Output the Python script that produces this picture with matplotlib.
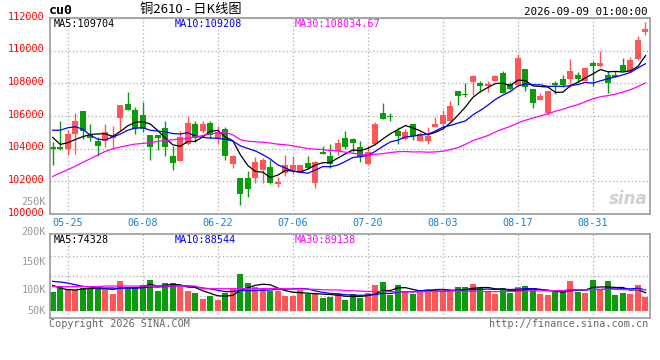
import numpy as np
import pandas as pd
import matplotlib
matplotlib.use("Agg")
import matplotlib.pyplot as plt
from matplotlib.transforms import ScaledTranslation

# 铜2610 日K，数值是从图上读出来的估计值
dates = pd.bdate_range("2026-05-21", "2026-09-09")

opens = [104100, 104100, 103990, 104870, 106300, 104810, 104500, 104460, 104630, 105870,
         106720, 106340, 106090, 104830, 104830, 105260, 103550, 103240, 104260, 105500,
         105110, 105560, 104670, 105200, 103080, 102200, 102180, 102200, 102710, 102870,
         101820, 102510, 102670, 102570, 103120, 101900, 103790, 103530, 103830, 104650,
         104600, 104100, 103080, 104260, 106170, 105990, 105110, 104610, 105480, 104500,
         104460, 105320, 105480, 105680, 107520, 107370, 108110, 108010, 107840, 108170,
         108620, 107940, 107900, 108860, 107640, 107010, 106170, 108000, 108270, 108270,
         108490, 108170, 109270, 109060, 108510, 108510, 109100, 108740, 109470, 111140]
closes = [103990, 103970, 104910, 105680, 105110, 104670, 104140, 104990, 104810, 106660,
          106380, 105220, 105180, 104120, 104630, 104120, 103140, 104710, 105600, 104670,
          105480, 104850, 104990, 103570, 103550, 101200, 101550, 103180, 103320, 101920,
          101940, 102980, 103000, 103000, 102830, 103180, 103690, 103080, 104340, 104120,
          104360, 103490, 103790, 105520, 105830, 105930, 104750, 105050, 104790, 104910,
          104750, 105500, 106090, 106640, 107250, 107270, 108450, 107840, 107940, 108430,
          107390, 107680, 109550, 107800, 106780, 107210, 107520, 107900, 107900, 108760,
          108250, 108920, 109060, 109250, 108050, 108370, 108740, 109430, 110630, 111300]
highs = [104400, 105680, 105150, 106170, 106300, 105480, 104710, 105480, 105400, 106700,
         107460, 106540, 106840, 104830, 104830, 105680, 104140, 105110, 105970, 105720,
         105720, 105720, 105360, 105320, 103590, 102200, 102630, 103490, 103440, 103320,
         102260, 103590, 103530, 103020, 103530, 103220, 104140, 104300, 104580, 105110,
         104650, 104460, 104140, 105620, 106780, 106190, 105320, 105220, 105520, 105010,
         105320, 105930, 106340, 106910, 107560, 108050, 108530, 108130, 108170, 108530,
         108780, 108070, 109800, 108860, 107640, 107390, 107560, 108170, 108530, 109490,
         108720, 108980, 109390, 110000, 108780, 108780, 109550, 109590, 110900, 111730]
lows = [102980, 103930, 103610, 103670, 104580, 104460, 103530, 104100, 103990, 105110,
        106380, 104910, 105010, 103320, 103890, 103570, 102670, 103240, 104200, 104400,
        104950, 104670, 104300, 103320, 102830, 100530, 101040, 101920, 101900, 101860,
        101650, 102300, 102470, 102510, 102770, 101610, 103690, 102830, 103590, 103990,
        103790, 103180, 102980, 104200, 105830, 105720, 104300, 104540, 104540, 104460,
        104300, 105320, 105220, 105680, 106700, 107150, 107310, 107460, 107460, 108130,
        107390, 107600, 107760, 107560, 106500, 107010, 106090, 107350, 107760, 107760,
        108070, 108130, 107860, 108980, 107390, 108370, 108740, 108680, 109430, 110980]
volumes = [78400, 102200, 91000, 88200, 95200, 91000, 98000, 92400, 70000, 124600,
           95200, 98000, 107800, 128800, 84000, 116200, 116200, 98000, 81200, 74200,
           49000, 63000, 44800, 74200, 91000, 154000, 116200, 98000, 95200, 81200,
           84000, 63000, 63000, 88200, 68600, 74200, 53200, 56000, 72800, 46200,
           70000, 53200, 74200, 107800, 120400, 67200, 107800, 81200, 70000, 88200,
           85400, 85400, 81200, 81200, 98000, 98000, 112000, 95200, 84000, 70000,
           95200, 74200, 98000, 102200, 95200, 70000, 64400, 77000, 81200, 126000,
           78400, 74200, 128800, 91000, 126000, 67200, 74200, 70000, 107800, 56000]

# 图最左边几根的均线要用到图外的K线，这几段直接读图
ma5_head = [104690, 104260, 104360, 104560]
ma10_head = [105130, 105130, 105280, 105340, 105200, 104830, 104580, 104540, 104710]
ma30_head = [102300, 102510, 102710, 102930, 103160, 103380, 103610, 103830, 103990, 104100,
             104200, 104280, 104320, 104380, 104440, 104500, 104550, 104580, 104630, 104710,
             104810, 104910, 104970, 104990, 104850, 104550, 104460, 104420, 104400]
vma5_head = [106400, 95200, 88200, 86800]
vma10_head = [123200, 120400, 116200, 109200, 102200, 99400, 95200, 95200, 95200]
vma30_head = [100800] * 7 + [103600] * 13 + [92400] * 9

date_ticks = ["05-25", "06-08", "06-22", "07-06", "07-20", "08-03", "08-17", "08-31"]
price_ticks = [100000, 102000, 104000, 106000, 108000, 110000, 112000]
vol_labels = ["250K", "200K", "150K", "100K", "50K"]
vol_label_y = [202, 232, 262, 290, 311]   # 像素位置，新浪原图的刻度就是这么摆的

RED = "#ff5757"
GREEN = "#0a9c0a"
GRID = "#aaaaaa"
EDGE = "#999999"

plt.rcParams["font.family"] = ["DejaVu Sans Mono", "Noto Sans CJK SC"]
plt.rcParams["font.size"] = 7.3


def moving_avg(values, n, head):
    ma = pd.Series(values, dtype=float).rolling(n).mean().to_numpy()
    ma[:len(head)] = head
    return ma


def fx(px):
    return px / 660


def fy(py):
    return 1 - py / 360


x = np.arange(len(closes))
o = np.array(opens)
c = np.array(closes)
colors = np.where(c >= o, RED, GREEN)
tick_idx = [list(dates.strftime("%m-%d")).index(d) for d in date_ticks]

fig = plt.figure(figsize=(6.6, 3.6), dpi=100)
ax = fig.add_axes([fx(50), fy(214), 600 / 660, 196 / 360])
axv = fig.add_axes([fx(50), fy(318), 600 / 660, 84 / 360])

# K线
ax.vlines(x, lows, highs, colors=colors, lw=1, zorder=2)
ax.bar(x, np.maximum(np.abs(c - o), 45), 0.8, bottom=np.minimum(o, c),
       color=colors, linewidth=0, zorder=2)
ax.plot(x, moving_avg(closes, 5, ma5_head), color="black", lw=0.9, zorder=3)
ax.plot(x, moving_avg(closes, 10, ma10_head), color="#0000ff", lw=0.9, zorder=3)
ax.plot(x, moving_avg(closes, 30, ma30_head), color="#ff00ff", lw=0.9, zorder=3)

ax.set_xlim(-0.36, 79.6)
ax.set_ylim(100000, 112000)
ax.set_yticks(price_ticks)
ax.set_yticklabels([str(v) for v in price_ticks])
ax.set_xticks(tick_idx)
ax.set_xticklabels(date_ticks)
ax.tick_params(length=0, pad=2)
ax.tick_params(axis="y", colors="#ff0000", pad=4)
ax.tick_params(axis="x", colors="#1a7fd0", pad=3)
off = ScaledTranslation(0, 0.025, fig.dpi_scale_trans)
for lbl in ax.get_yticklabels():
    lbl.set_transform(lbl.get_transform() + off)
ax.grid(True, ls=(0, (1, 2)), color=GRID, lw=0.9)

# 成交量
axv.bar(x, volumes, 0.8, color=colors, linewidth=0, zorder=2)
axv.plot(x, moving_avg(volumes, 5, vma5_head), color="black", lw=0.9, zorder=3)
axv.plot(x, moving_avg(volumes, 10, vma10_head), color="#0000ff", lw=0.9, zorder=3)
axv.plot(x, moving_avg(volumes, 30, vma30_head), color="#ff00ff", lw=0.9, zorder=3)
axv.set_xlim(-0.36, 79.6)
axv.set_ylim(-30700, 322000)
axv.set_xticks(tick_idx)
axv.set_yticks([63000, 147000, 231000])
axv.tick_params(length=0, labelbottom=False, labelleft=False)
axv.grid(True, ls=(0, (1, 2)), color=GRID, lw=0.9)

for a in (ax, axv):
    for sp in a.spines.values():
        sp.set_color(EDGE)
        sp.set_linewidth(1.2)
    a.set_axisbelow(True)

for lab, py in zip(vol_labels, vol_label_y):
    fig.text(fx(46), fy(py), lab, ha="right", va="center", color="#999999")

# 文字
fig.text(fx(49), fy(10), "cu0", ha="left", va="center", fontsize=9.5,
         fontweight="bold")
fig.text(fx(140), fy(10), "铜2610 - 日K线图", ha="left", va="center", fontsize=9.5,
         family=["Noto Sans CJK SC", "DejaVu Sans"])
fig.text(fx(648), fy(12), "2026-09-09 01:00:00", ha="right", va="center", fontsize=7.8)
fig.text(fx(54), fy(24), "MA5:109704", color="black", va="center")
fig.text(fx(175), fy(24), "MA10:109208", color="#0000ff", va="center")
fig.text(fx(295), fy(24), "MA30:108034.67", color="#ff00ff", va="center")
fig.text(fx(54), fy(240), "MA5:74328", color="black", va="center")
fig.text(fx(175), fy(240), "MA10:88544", color="#0000ff", va="center")
fig.text(fx(295), fy(240), "MA30:89138", color="#ff00ff", va="center")
fig.text(fx(49), fy(324), "Copyright 2026 SINA.COM", color="#666666", va="center")
fig.text(fx(648), fy(324), "http://finance.sina.com.cn", color="#666666",
         ha="right", va="center")
fig.text(fx(648), fy(199), "sina", color="#d0d0d0", ha="right", va="center",
         fontsize=12, fontweight="bold", style="italic", family="DejaVu Sans")

fig.savefig("out.png", dpi=100, facecolor="white")
